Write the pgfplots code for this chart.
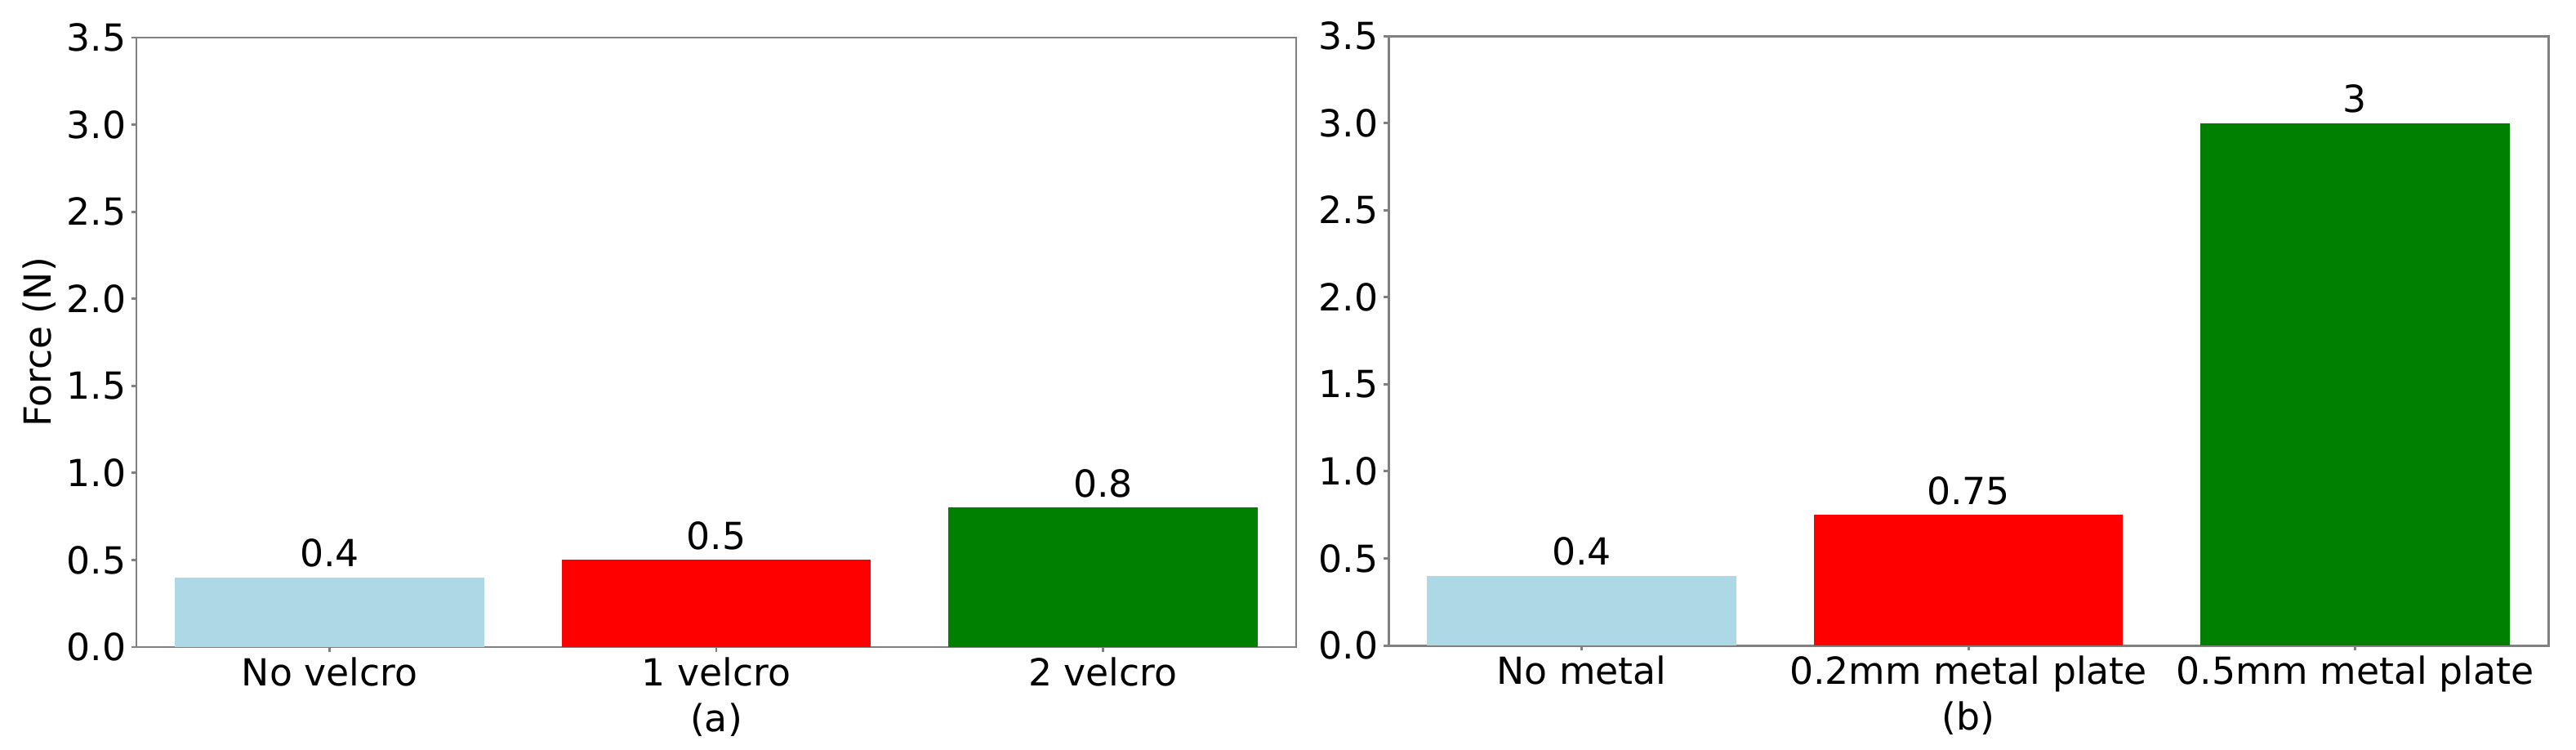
\documentclass[border=0pt]{standalone}
\usepackage{fontspec}
\setmainfont{DejaVu Sans}
\usepackage{pgfplots}
\pgfplotsset{compat=1.18}

\definecolor{lblue}{RGB}{173,216,230}
\definecolor{mgreen}{RGB}{0,128,0}
\definecolor{spine}{RGB}{128,128,128}

\newcommand{\lf}{\fontsize{13}{15.6}\selectfont}

\pgfplotsset{
  forcebars/.style={
    scale only axis,
    width=14.2cm, height=7.46cm,
    anchor=south west,
    ybar, bar width=0.8, bar shift=0pt,
    xmin=-0.5, xmax=2.5,
    ymin=0, ymax=3.5,
    xtick={0,1,2},
    ytick={0,0.5,...,3.5},
    /pgf/number format/assume math mode=true,
    yticklabel style={/pgf/number format/fixed, /pgf/number format/fixed zerofill,
      /pgf/number format/precision=1, inner sep=0.06cm},
    xticklabel style={inner sep=0.06cm},
    tick label style={font=\lf},
    label style={font=\lf},
    axis line style={spine, line width=0.85pt},
    tick style={spine, line width=0.85pt},
    major tick length=0.06cm,
    tick align=outside,
    xtick pos=bottom, ytick pos=left,
    nodes near coords,
    nodes near coords style={font=\lf, black},
    xlabel style={at={(axis description cs:0.5,0)}, anchor=north, yshift=-0.68cm, inner sep=0pt},
  },
}

\begin{document}
\begin{tikzpicture}
\path (0,0) rectangle (31.54,9.17);

\begin{axis}[forcebars, at={(1.67cm,1.25cm)},
  xticklabels={No velcro, 1 velcro, 2 velcro},
  xlabel={(a)},
  ylabel={Force (N)},
  ylabel style={at={(axis description cs:-0.084,0.5)}, anchor=center},
]
\addplot[fill=lblue, draw=none] coordinates {(0,0.4)};
\addplot[fill=red, draw=none] coordinates {(1,0.5)};
\addplot[fill=mgreen, draw=none] coordinates {(2,0.8)};
\end{axis}

\begin{axis}[forcebars, at={(17.0cm,1.27cm)},
  xticklabels={No metal, 0.2mm metal plate, 0.5mm metal plate},
  xlabel={(b)},
]
\addplot[fill=lblue, draw=none] coordinates {(0,0.4)};
\addplot[fill=red, draw=none] coordinates {(1,0.75)};
\addplot[fill=mgreen, draw=none] coordinates {(2,3)};
\end{axis}
\end{tikzpicture}
\end{document}
